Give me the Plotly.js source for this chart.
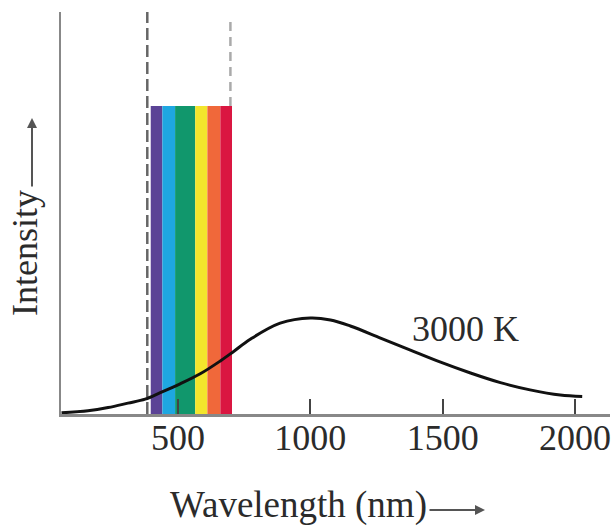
<!DOCTYPE html>
<html>
<head>
<meta charset="utf-8">
<script src="https://cdn.plot.ly/plotly-3.0.1.min.js"></script>
<style>html,body{margin:0;padding:0;background:#fff;}#chart{width:616px;height:529px;}</style>
</head>
<body>
<div id="chart"></div>
<script>
// Blackbody curve at 3000 K, wavelength in nm, relative intensity
const wavelength = [60, 160, 236, 311, 376, 433, 508, 584, 660, 709, 773, 886, 1000, 1076, 1151, 1265, 1378, 1492, 1605, 1718, 1830, 1944, 2027];
const intensity  = [0.003, 0.008, 0.016, 0.027, 0.037, 0.053, 0.075, 0.100, 0.132, 0.155, 0.186, 0.226, 0.239, 0.234, 0.219, 0.189, 0.159, 0.129, 0.102, 0.078, 0.060, 0.047, 0.0435];

// Visible spectrum band
const bandEdges  = [397, 441, 489, 565, 611, 660, 704];
const bandColors = ['#5b4396', '#1ea7e1', '#11976c', '#f3e62c', '#f0683a', '#da1641'];
const bandTop = 0.766;

// Dashed guide lines
const dashLeft = 384;
const dashRight = 698;

// Axis ticks
const tickValues = [500, 1000, 1500, 2000];
const tickLabels = ['500', '1000', '1500', '2000'];

const curveLabel = '3000 K';
const curveLabelPos = [1586, 0.211];

const textColor = '#2b2b2b';
const serif = 'Liberation Serif, Times New Roman, serif';

const shapes = [];
for (let i = 0; i < bandColors.length; i++) {
  shapes.push({type: 'rect', xref: 'x', yref: 'y', x0: bandEdges[i], x1: bandEdges[i + 1], y0: 0, y1: bandTop,
    fillcolor: bandColors[i], line: {width: 0}, layer: 'below'});
}
shapes.push({type: 'line', xref: 'x', yref: 'y', x0: dashLeft, x1: dashLeft, y0: 0, y1: 1,
  line: {color: '#666', width: 2.5, dash: '12px,5px'}, layer: 'below'});
shapes.push({type: 'line', xref: 'x', yref: 'y', x0: dashRight, x1: dashRight, y0: bandTop, y1: 0.985,
  line: {color: '#aaa', width: 2.5, dash: '9px,6px'}, layer: 'below'});

const trace = {
  x: wavelength, y: intensity, type: 'scatter', mode: 'lines',
  line: {color: '#111', width: 3, shape: 'spline', smoothing: 1},
  hoverinfo: 'skip', showlegend: false
};

const layout = {
  width: 616, height: 529,
  margin: {l: 61, r: 6, t: 12, b: 115, pad: 0},
  paper_bgcolor: '#fff', plot_bgcolor: '#fff',
  showlegend: false,
  font: {family: serif, color: textColor, size: 36},
  xaxis: {
    range: [58, 2132], showgrid: false, zeroline: false,
    showline: true, linecolor: '#888', linewidth: 2.5,
    ticks: 'inside', ticklen: 15, tickwidth: 2, tickcolor: '#444',
    tickvals: tickValues, ticktext: tickLabels,
    tickfont: {family: serif, size: 36, color: textColor},
    ticklabelstandoff: -10,
    layer: 'above traces',
    fixedrange: true
  },
  yaxis: {
    range: [0, 1], showgrid: false, zeroline: false,
    showline: true, linecolor: '#888', linewidth: 2.5,
    ticks: '', showticklabels: false, fixedrange: true
  },
  shapes: shapes,
  annotations: [
    {xref: 'x', yref: 'y', x: curveLabelPos[0], y: curveLabelPos[1], text: curveLabel, showarrow: false,
     font: {family: serif, size: 36, color: textColor}, xanchor: 'center', yanchor: 'middle'},
    {xref: 'paper', yref: 'paper', x: (298.5 - 61) / 549, y: (414 - 505) / 402, text: 'Wavelength (nm)', showarrow: false,
     font: {family: serif, size: 37, color: textColor}, xanchor: 'center', yanchor: 'middle'},
    {xref: 'paper', yref: 'paper', x: (485 - 61) / 549, y: (414 - 510) / 402, text: '', showarrow: true,
     ax: -57, ay: 0, arrowhead: 2, arrowsize: 1, arrowwidth: 2, arrowcolor: '#555', standoff: 0},
    {xref: 'paper', yref: 'paper', x: (24.5 - 61) / 549, y: (414 - 253.5) / 402, text: 'Intensity', showarrow: false,
     textangle: -90, font: {family: serif, size: 36, color: textColor}, xanchor: 'center', yanchor: 'middle'},
    {xref: 'paper', yref: 'paper', x: (32 - 61) / 549, y: (414 - 118) / 402, text: '', showarrow: true,
     ax: 0, ay: 70, arrowhead: 2, arrowsize: 1, arrowwidth: 2, arrowcolor: '#555', standoff: 0}
  ]
};

Plotly.newPlot('chart', [trace], layout, {staticPlot: true, displayModeBar: false});
</script>
</body>
</html>
